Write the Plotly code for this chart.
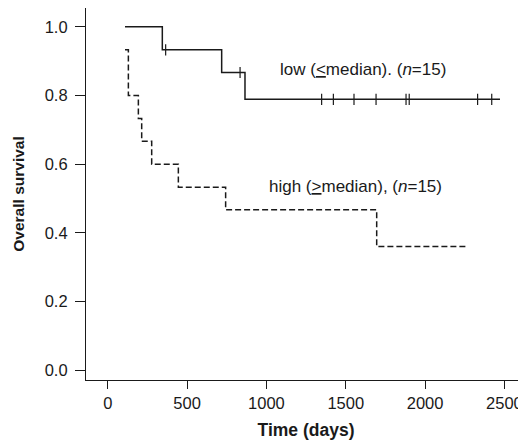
import plotly.graph_objects as go

# Kaplan-Meier step curves
low_times = [109, 344, 718, 865, 2472]
low_surv = [1.0, 0.933, 0.867, 0.789, 0.789]
low_cens_times = [365, 834, 1348, 1422, 1552, 1691, 1880, 1900, 2331, 2420]
low_cens_surv = [0.933, 0.867, 0.789, 0.789, 0.789, 0.789, 0.789, 0.789, 0.789, 0.789]

high_times = [109, 130, 193, 214, 277, 445, 743, 1695, 2272]
high_surv = [0.933, 0.8, 0.733, 0.667, 0.6, 0.533, 0.467, 0.36, 0.36]

x_ticks = [0, 500, 1000, 1500, 2000, 2500]
y_ticks = [0.0, 0.2, 0.4, 0.6, 0.8, 1.0]
y_tick_text = ["0.0", "0.2", "0.4", "0.6", "0.8", "1.0"]

low_label = "low (<u>&lt;</u>median). (<i>n</i>=15)"
high_label = "high (<u>&gt;</u>median), (<i>n</i>=15)"

FONT = "Liberation Sans, Arial, sans-serif"
INK = "#1a1a1a"

fig = go.Figure()
fig.add_trace(go.Scatter(x=low_times, y=low_surv, mode="lines", line_shape="hv",
                         line=dict(color=INK, width=1.5), name="low", showlegend=False))
fig.add_trace(go.Scatter(x=low_cens_times, y=low_cens_surv, mode="markers",
                         marker=dict(symbol="line-ns-open", size=8, color=INK,
                                     line=dict(color=INK, width=1.2)),
                         showlegend=False))
fig.add_trace(go.Scatter(x=high_times, y=high_surv, mode="lines", line_shape="hv",
                         line=dict(color=INK, width=1.5, dash="6px,3px"),
                         name="high", showlegend=False))

fig.add_annotation(x=1609, y=0.875, text=low_label, showarrow=False,
                   font=dict(family=FONT, size=17, color=INK))
fig.add_annotation(x=1564, y=0.536, text=high_label, showarrow=False,
                   font=dict(family=FONT, size=17, color=INK))

# page body has an 8px default margin, so the figure is drawn offset by (8, 8)
fig.update_layout(
    width=518, height=432,
    margin=dict(l=78, r=0, t=0, b=60),
    paper_bgcolor="white", plot_bgcolor="white",
    font=dict(family=FONT, size=14, color=INK),
)
fig.update_xaxes(range=[-137, 2636], tickvals=x_ticks, ticks="outside", ticklen=8,
                 tickwidth=1, tickcolor=INK, showline=True, linecolor=INK, linewidth=1.2,
                 showgrid=False, zeroline=False, automargin=False,
                 tickfont=dict(family=FONT, size=16.5, color=INK),
                 title=dict(text="<b>Time (days)</b>", standoff=17,
                            font=dict(family=FONT, size=17.5, color=INK)))
fig.update_yaxes(range=[-0.029, 1.055], tickvals=y_ticks, ticktext=y_tick_text,
                 ticks="outside", ticklen=10, tickwidth=1, tickcolor=INK,
                 ticklabelstandoff=4,
                 showline=True, linecolor=INK, linewidth=1.2,
                 showgrid=False, zeroline=False, automargin=False,
                 tickfont=dict(family=FONT, size=16.5, color=INK),
                 title=dict(text="<b>Overall survival</b>", standoff=16,
                            font=dict(family=FONT, size=15.5, color=INK)))

fig.write_html("out.html")
